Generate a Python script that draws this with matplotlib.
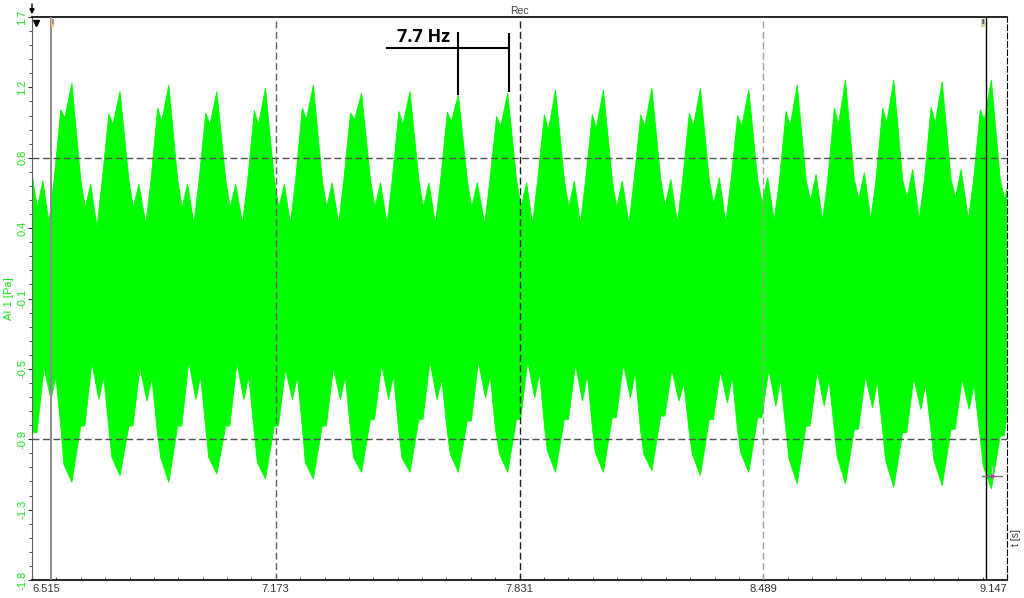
import numpy as np
import matplotlib.pyplot as plt
from matplotlib.ticker import FixedLocator

# envelope, one entry per 7.7 Hz beat
# (first beat sits just left of the visible window)
cycle_t = [6.4934, 6.6227, 6.7526, 6.8843, 7.0141, 7.1453, 7.2746, 7.4048, 7.5354, 7.6661,
           7.7992, 7.9282, 8.0575, 8.1884, 8.3194, 8.4500, 8.5807, 8.7110, 8.8414, 8.9721, 9.1049]

upper_peak = [1.20, 1.25, 1.20, 1.24, 1.20, 1.22, 1.24, 1.19, 1.20, 1.18, 1.19,
              1.21, 1.21, 1.22, 1.22, 1.21, 1.24, 1.27, 1.27, 1.26, 1.27]
upper_shoulder = [1.07, 1.09, 1.065, 1.10, 1.07, 1.085, 1.10, 1.07, 1.08, 1.075, 1.05,
                  1.06, 1.06, 1.06, 1.07, 1.055, 1.08, 1.10, 1.10, 1.105, 1.09]
upper_notch = [1.00, 1.04, 1.00, 1.02, 1.00, 1.00, 1.03, 1.03, 1.00, 1.02, 0.99,
               0.97, 0.98, 0.99, 0.99, 0.99, 0.99, 1.00, 1.01, 1.01, 1.03]
upper_dip_before = [0.40, 0.41, 0.38, 0.40, 0.40, 0.40, 0.40, 0.40, 0.40, 0.40, 0.40,
                    0.40, 0.40, 0.40, 0.41, 0.41, 0.42, 0.42, 0.43, 0.43, 0.43]
upper_dip_after = [0.50, 0.50, 0.50, 0.50, 0.50, 0.50, 0.50, 0.50, 0.50, 0.50, 0.50,
                   0.50, 0.50, 0.51, 0.52, 0.53, 0.54, 0.55, 0.56, 0.56, 0.55]
upper_bump = [0.66, 0.64, 0.64, 0.64, 0.64, 0.64, 0.65, 0.65, 0.65, 0.65, 0.65,
              0.66, 0.66, 0.67, 0.68, 0.68, 0.70, 0.71, 0.73, 0.73, 0.70]
upper_edge = 0.667

lower_trough = [-1.12, -1.16, -1.12, -1.16, -1.11, -1.14, -1.14, -1.10, -1.10, -1.10, -1.10,
                -1.10, -1.10, -1.09, -1.12, -1.10, -1.17, -1.17, -1.19, -1.18, -1.20]
lower_sub = [-1.02, -1.05, -1.01, -1.01, -1.01, -1.04, -1.04, -1.01, -1.01, -0.99, -0.99,
             -0.97, -0.98, -0.99, -0.99, -0.98, -1.02, -1.01, -1.03, -1.03, -1.06]
lower_shoulder = [-0.86, -0.82, -0.82, -0.82, -0.82, -0.82, -0.82, -0.78, -0.78, -0.79, -0.78,
                  -0.78, -0.77, -0.76, -0.78, -0.77, -0.82, -0.84, -0.86, -0.84, -0.88]
lower_crest = [-0.47, -0.44, -0.47, -0.43, -0.44, -0.48, -0.47, -0.45, -0.43, -0.43, -0.43,
               -0.45, -0.45, -0.48, -0.49, -0.48, -0.49, -0.52, -0.53, -0.54, -0.54]
lower_notch = [-0.66, -0.66, -0.67, -0.66, -0.66, -0.66, -0.66, -0.66, -0.66, -0.65, -0.65,
               -0.67, -0.65, -0.67, -0.68, -0.70, -0.70, -0.71, -0.72, -0.72, -0.72]
lower_bump = [-0.52, -0.52, -0.53, -0.52, -0.52, -0.52, -0.52, -0.51, -0.54, -0.52, -0.50,
              -0.51, -0.50, -0.56, -0.52, -0.54, -0.54, -0.55, -0.57, -0.57, -0.57]
lower_edge = -0.84

# where each feature sits within a beat (s, relative to the beat maximum)
upper_dt = [-0.062, -0.048, -0.030, -0.019, 0.0, 0.024, 0.036, 0.051]
lower_dt = [-0.022, 0.0, 0.024, 0.035, 0.054, 0.073, 0.086, 0.100]

x_ticks = [6.515, 7.173, 7.831, 8.489, 9.147]
x_labels = ['6.515', '7.173', '7.831', '8.489', '9.147']
y_ticks = [-1.75, -1.325, -0.9, -0.475, -0.05, 0.375, 0.8, 1.225, 1.65]
y_labels = ['-1.8', '-1.3', '-0.9', '-0.5', '-0.1', '0.4', '0.8', '1.2', '1.7']

cursor_1 = 6.565
cursor_2 = 9.0903
cross_t, cross_v = 9.1065, -1.122

hz_bar_t = [7.473, 7.803]
hz_bar_v = 1.463
hz_mark_t = [7.665, 7.803]
hz_mark_top = [1.559, 1.553]
hz_mark_bottom = [1.18, 1.20]

GREEN = '#00ff00'
TEXT_GREEN = '#19e619'

plt.rcParams['font.family'] = ['Liberation Sans', 'DejaVu Sans']

# build the outline of the signal band
ut, uv, lt, lv = [], [], [], []
for i, c in enumerate(cycle_t):
    ut += [c + d for d in upper_dt]
    uv += [upper_dip_before[i], upper_edge, upper_shoulder[i], upper_notch[i],
           upper_peak[i], upper_edge, upper_dip_after[i], upper_bump[i]]
    lt += [c + d for d in lower_dt]
    lv += [lower_sub[i], lower_trough[i], lower_shoulder[i], lower_shoulder[i],
           lower_crest[i], lower_notch[i], lower_bump[i], lower_edge]

fig = plt.figure(figsize=(10.24, 5.98), dpi=100)
ax = fig.add_axes([0.03125, 0.0301, 0.95215, 0.94147])

ax.fill(ut + lt[::-1], uv + lv[::-1], color=GREEN, lw=0.6, ec=GREEN, zorder=2)

ax.set_xlim(6.515, 9.147)
ax.set_ylim(-1.75, 1.65)

# grid
for v in [0.8, -0.9]:
    ax.axhline(v, color='#505050', lw=1, ls=(0, (5, 2.5)), zorder=3)
for t, col in zip(x_ticks[1:4], ['#606060', '#202020', '#a0a0a0']):
    ax.axvline(t, color=col, lw=1, ls=(0, (5, 2.5)), zorder=3)

# cursors
ax.axvline(cursor_1, color='#8c8c8c', lw=1.4, zorder=4)
ax.axvline(cursor_2, color='black', lw=1, zorder=4)
ax.text(cursor_1 + 0.003, 1.635, 'I', fontsize=5, color='#1a2a8a', va='top', ha='left',
        bbox=dict(fc='#f0c070', ec='none', pad=0.2), zorder=5)
ax.text(cursor_2 - 0.003, 1.635, 'II', fontsize=5, color='#1a2a8a', va='top', ha='right',
        bbox=dict(fc='#e8d0a0', ec='none', pad=0.2), zorder=5)
ax.plot([cross_t - 0.027, cross_t + 0.027], [cross_v, cross_v], color='#707070', lw=1, zorder=5)
ax.plot([cross_t, cross_t], [cross_v + 0.06, cross_v], color='#e8a0e8', lw=1, zorder=5)
ax.plot(cross_t, cross_v, 's', ms=2, color='#d020d0', zorder=6)

# 7.7 Hz marker
ax.plot(hz_bar_t, [hz_bar_v, hz_bar_v], color='black', lw=1.5, zorder=6)
ax.vlines(hz_mark_t, hz_mark_bottom, hz_mark_top, color='black', lw=1.5, zorder=6)
ax.text(7.572, 1.499, '7.7 Hz', fontsize=13, fontweight='bold', family='Open Sans',
        ha='center', va='baseline', zorder=6)

# axes styling
ax.set_xticks(x_ticks)
ax.set_xticklabels(x_labels)
ax.xaxis.set_minor_locator(FixedLocator(np.linspace(x_ticks[0], x_ticks[-1], 41)))
ax.tick_params(axis='x', which='both', direction='in', colors='#333333', labelsize=8, pad=3)
ax.tick_params(axis='x', which='major', length=4)
ax.tick_params(axis='x', which='minor', length=2)
xl = ax.get_xticklabels()
xl[0].set_ha('left')
xl[-1].set_ha('right')

ax.set_yticks(y_ticks)
ax.set_yticklabels(y_labels, rotation=90, va='center')
ax.yaxis.set_minor_locator(FixedLocator(np.linspace(y_ticks[0], y_ticks[-1], 41)))
ax.tick_params(axis='y', which='both', direction='out', color='#333333',
               labelcolor=TEXT_GREEN, labelsize=8, pad=0.5)
ax.tick_params(axis='y', which='major', length=3)
ax.tick_params(axis='y', which='minor', length=2)

ax.set_ylabel('AI 1 [Pa]', color=TEXT_GREEN, fontsize=8)
ax.yaxis.set_label_coords(-0.0185, 0.5)
ax.set_title('Rec', fontsize=7.5, color='#444444', pad=2)
ax.text(1.009, 0.076, 't [s]', transform=ax.transAxes, rotation=90, fontsize=7.5,
        ha='center', va='center', color='#333333')

for side in ['top', 'bottom']:
    ax.spines[side].set_color('black')
    ax.spines[side].set_linewidth(1.2)
ax.spines['left'].set_color('#606060')
ax.spines['right'].set_color('black')
ax.spines['right'].set_linestyle((0, (5, 2.5)))

# arrow in the top left corner
ax.annotate('', xy=(0, 1.0), xycoords='axes fraction', xytext=(0, 1.028),
            arrowprops=dict(arrowstyle='-|>', color='black', lw=1, mutation_scale=7),
            annotation_clip=False)
ax.plot([0.004], [0.99], 'v', ms=4, color='black', transform=ax.transAxes, clip_on=False)

fig.savefig('out.png', dpi=100)
